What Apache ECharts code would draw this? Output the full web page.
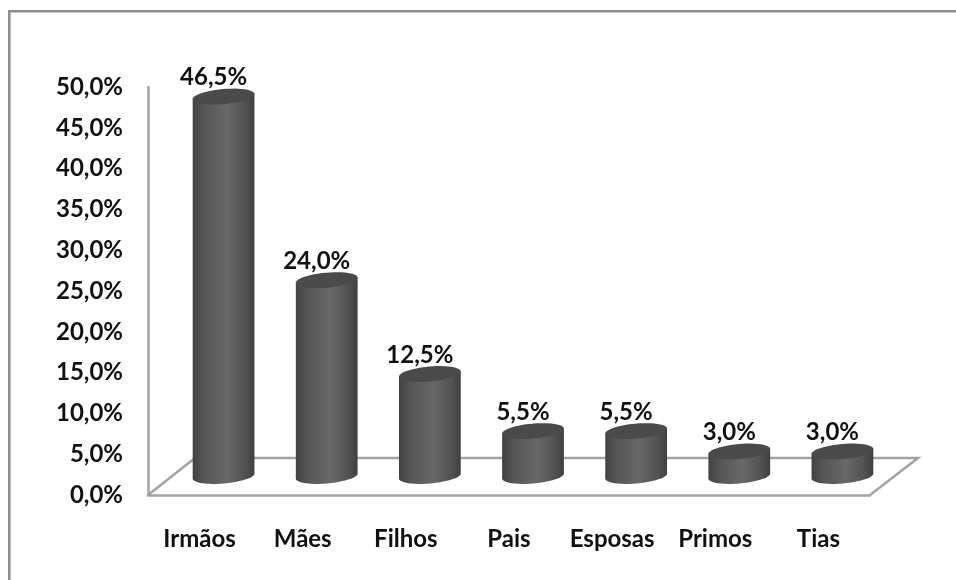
<!DOCTYPE html>
<html>
<head>
<meta charset="utf-8">
<style>html,body{margin:0;padding:0;background:#fff}#c{width:956px;height:580px}</style>
<script src="https://cdn.jsdelivr.net/npm/echarts@6/dist/echarts.min.js"></script>
</head>
<body>
<div id="c"></div>
<script>
// Share of relatives by kinship (percent)
const categories = ['Irmãos', 'Mães', 'Filhos', 'Pais', 'Esposas', 'Primos', 'Tias'];
const shares = [46.5, 24.0, 12.5, 5.5, 5.5, 3.0, 3.0];
const yMax = 50;
const yStep = 5;

const FONT = 'Lato, "Open Sans", sans-serif';
const FONT_SIZE = 24;
const TEXT = '#111111';
const LINE = '#a3a3a3';

// Pseudo-3D floor depth and cylinder placement on it, in pixels
const DEPTH_X = 47, DEPTH_Y = -37;
const BAR_DX = 24, BAR_DY = -19;
const RX = 31, RY = 7.5, TILT = -5 * Math.PI / 180;

const fmt = v => v.toFixed(1).replace('.', ',') + '%';

// Point on a tilted ellipse at parameter t
function ellipsePoint(cx, cy, t) {
  const x = RX * Math.cos(t), y = RY * Math.sin(t);
  return [cx + x * Math.cos(TILT) - y * Math.sin(TILT),
          cy + x * Math.sin(TILT) + y * Math.cos(TILT)];
}
function ellipseArc(cx, cy, from, to, n) {
  const pts = [];
  for (let i = 0; i <= n; i++) pts.push(ellipsePoint(cx, cy, from + (to - from) * i / n));
  return pts;
}

// Floor of the plot: back edge and the two slanted sides
function renderFloor(params, api) {
  const cs = params.coordSys;
  const y0 = cs.y + cs.height, x0 = cs.x, x1 = cs.x + cs.width;
  return {
    type: 'polyline',
    shape: { points: [[x0, y0], [x0 + DEPTH_X, y0 + DEPTH_Y], [x1 + DEPTH_X + 1, y0 + DEPTH_Y], [x1, y0]] },
    style: { fill: null, stroke: LINE, lineWidth: 2.5 },
    silent: true
  };
}

function renderCylinder(params, api) {
  const value = api.value(1);
  const base = api.coord([api.value(0), 0]);
  const top = api.coord([api.value(0), value]);
  const cx = base[0] + BAR_DX;
  const by = base[1] + BAR_DY;
  const ty = top[1] + BAR_DY;
  // Sides: from the top ellipse's rim round the front of the base ellipse
  const side = ellipseArc(cx, by, Math.PI, 0, 24);
  const outline = [ellipsePoint(cx, ty, Math.PI), ...side, ellipsePoint(cx, ty, 0)];
  const lid = ellipseArc(cx, ty, 0, Math.PI * 2, 48);
  return {
    type: 'group',
    children: [
      {
        type: 'polygon',
        shape: { points: outline },
        style: {
          fill: {
            type: 'linear', x: 0, y: 0, x2: 1, y2: 0,
            colorStops: [
              { offset: 0, color: '#424242' },
              { offset: 0.18, color: '#555555' },
              { offset: 0.55, color: '#686868' },
              { offset: 0.85, color: '#525252' },
              { offset: 1, color: '#3f3f3f' }
            ]
          }
        }
      },
      { type: 'polygon', shape: { points: lid }, style: { fill: '#4a4a4a' } },
      {
        type: 'text',
        style: {
          x: cx - 10, y: ty - 19,
          text: fmt(value),
          font: '700 ' + FONT_SIZE + 'px ' + FONT,
          fill: TEXT, align: 'center', verticalAlign: 'middle'
        }
      }
    ]
  };
}

const chart = echarts.init(document.getElementById('c'), null, { renderer: 'canvas' });
chart.setOption({
  animation: false,
  backgroundColor: '#ffffff',
  // Frame runs along the top and left edges only and bleeds off the page
  graphic: [{
    type: 'polyline', silent: true, z: -1,
    shape: { points: [[9.3, 580], [9.3, 11.3], [956, 11.3]] },
    style: { fill: null, stroke: '#8c8c8c', lineWidth: 2.5 }
  }],
  grid: { left: 148, top: 87, width: 722, height: 408, containLabel: false },
  xAxis: {
    type: 'category',
    data: categories,
    axisLine: { lineStyle: { color: LINE, width: 2.5 } },
    axisTick: { show: false },
    axisLabel: { interval: 0, color: TEXT, fontFamily: FONT, fontWeight: 700, fontSize: FONT_SIZE, margin: 32 }
  },
  yAxis: {
    type: 'value',
    min: 0, max: yMax, interval: yStep,
    axisLine: { show: true, lineStyle: { color: LINE, width: 2.5 } },
    axisTick: { show: false },
    splitLine: { show: false },
    axisLabel: { color: TEXT, fontFamily: FONT, fontWeight: 700, fontSize: FONT_SIZE, margin: 25, padding: [4, 0, 0, 0], formatter: fmt }
  },
  series: [
    { type: 'custom', coordinateSystem: 'cartesian2d', data: [[0, 0]], renderItem: renderFloor, z: 1, silent: true },
    {
      type: 'custom', coordinateSystem: 'cartesian2d',
      data: shares.map((v, i) => [i, v]),
      encode: { x: 0, y: 1 },
      renderItem: renderCylinder, z: 2
    }
  ]
});
</script>
</body>
</html>
